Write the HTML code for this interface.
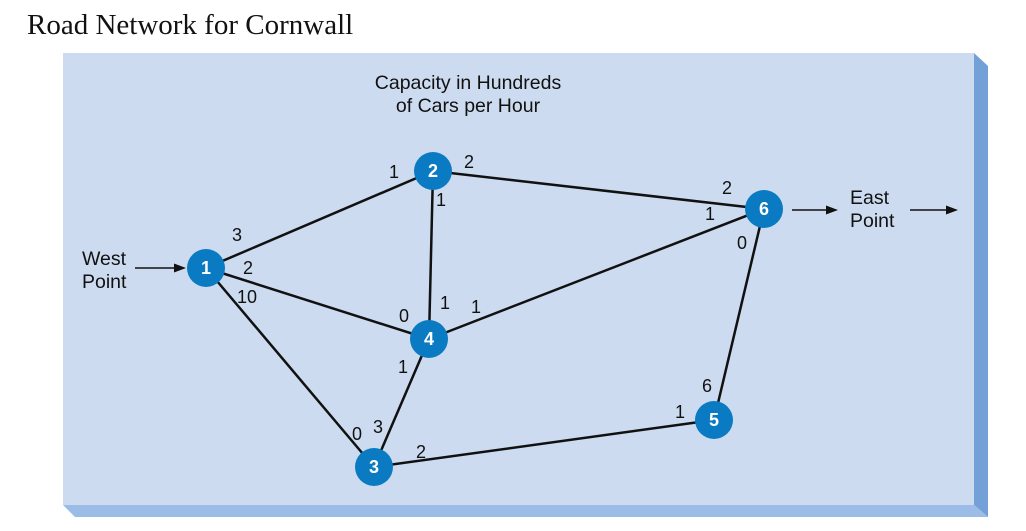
<!DOCTYPE html>
<html><head><meta charset="utf-8"><style>
html,body{margin:0;padding:0;background:#fff;width:1026px;height:531px;overflow:hidden}
</style></head><body>
<svg width="1026" height="531" xmlns="http://www.w3.org/2000/svg" font-family="Liberation Sans, sans-serif">
<text x="27" y="34" font-family="Liberation Serif, serif" font-size="29" fill="#111">Road Network for Cornwall</text>
<polygon points="974,53 988,66 988,517 974,505" fill="#73a0d6"/>
<polygon points="63,505 974,505 988,517 75,517" fill="#9bbce6"/>
<rect x="63" y="53" width="911" height="452" fill="#ccdbf0"/>
<g font-size="19.5" fill="#111" text-anchor="middle">
<text x="468" y="89">Capacity in Hundreds</text>
<text x="468" y="112">of Cars per Hour</text>
</g>
<g stroke="#111" stroke-width="2.5" fill="none">
<line x1="206" y1="268" x2="433" y2="171"/>
<line x1="206" y1="268" x2="429" y2="339"/>
<line x1="206" y1="268" x2="374" y2="467"/>
<line x1="433" y1="171" x2="429" y2="339"/>
<line x1="433" y1="171" x2="764" y2="209"/>
<line x1="429" y1="339" x2="764" y2="209"/>
<line x1="429" y1="339" x2="374" y2="467"/>
<line x1="374" y1="467" x2="714" y2="420"/>
<line x1="714" y1="420" x2="764" y2="209"/>
<line x1="135" y1="268" x2="176" y2="268" stroke-width="1.5"/>
<line x1="792" y1="210" x2="830" y2="210" stroke-width="1.5"/>
<line x1="910" y1="210" x2="948" y2="210" stroke-width="1.5"/>
</g>
<g fill="#111">
<polygon points="186,268 174,263.5 174,272.5"/>
<polygon points="838,210 826,205.5 826,214.5"/>
<polygon points="958,210 946,205.5 946,214.5"/>
</g>
<g fill="#0a7bc2">
<circle cx="206" cy="268" r="19"/><circle cx="433" cy="171" r="19"/>
<circle cx="429" cy="339" r="19"/><circle cx="764" cy="209" r="19"/>
<circle cx="374" cy="467" r="19"/><circle cx="714" cy="420" r="19"/>
</g>
<g fill="#fff" font-size="18" font-weight="bold" text-anchor="middle">
<text x="206" y="274">1</text><text x="433" y="177">2</text><text x="429" y="345">4</text>
<text x="764" y="215">6</text><text x="374" y="473">3</text><text x="714" y="426">5</text>
</g>
<g font-size="19.5" fill="#111">
<text x="82" y="265">West</text><text x="82" y="288">Point</text>
<text x="850" y="204">East</text><text x="850" y="227">Point</text>
</g>
<g font-size="18" fill="#111">
<text x="232" y="241">3</text><text x="243" y="274">2</text><text x="237" y="303">10</text>
<text x="389" y="178">1</text><text x="464" y="168">2</text><text x="436" y="206">1</text>
<text x="722" y="194">2</text><text x="705" y="220">1</text><text x="737" y="249">0</text>
<text x="399" y="322">0</text><text x="440" y="309">1</text><text x="471" y="313">1</text>
<text x="398" y="373">1</text><text x="352" y="440">0</text><text x="373" y="433">3</text>
<text x="416" y="458">2</text><text x="702" y="392">6</text><text x="675" y="418">1</text>
</g>
</svg>
</body></html>
